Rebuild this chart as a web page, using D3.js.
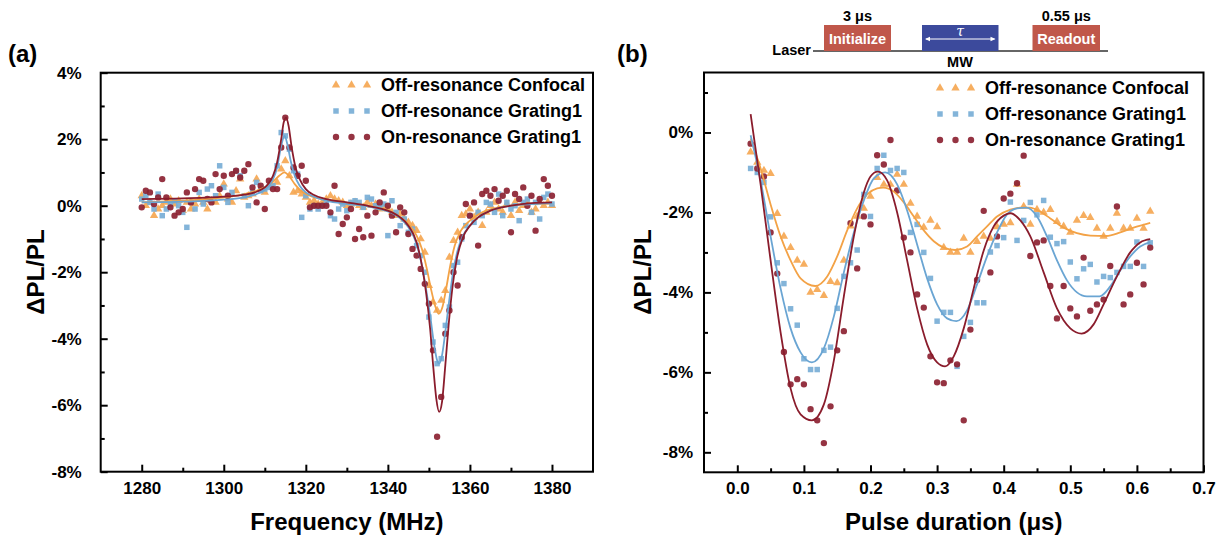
<!DOCTYPE html>
<html>
<head>
<meta charset="utf-8">
<script src="https://d3js.org/d3.v7.min.js"></script>
<style>
body { margin: 0; background: #fff; }
text { font-family: Arial, 'Liberation Sans', sans-serif; font-weight: bold; fill: #000; }
</style>
</head>
<body>
<div id="chart"></div>
<script>
// ---------- panel (a): frequency sweep ----------
const freqA = d3.range(1280, 1381, 1);

const orangeA = [0.3,0.0,0.1,-0.3,-0.1,0.0,0.1,0.2,0.05,0.15,
  -0.15,0.1,-0.1,0.05,0.2,0.1,-0.1,0.15,0.1,0.3,
  0.65,0.2,0.1,0.45,0.8,0.25,0.3,0.35,0.8,0.5,
  0.4,0.6,0.55,0.7,1.1,1.35,0.9,0.4,0.45,0.35,
  0.25,0.1,0.15,0.05,0.1,0.2,0.3,0.2,0.15,0.1,
  0.0,0.05,0.1,0.0,-0.05,0.1,0.0,0.05,-0.1,-0.05,
  -0.1,-0.2,-0.3,-0.25,-0.4,-0.5,-0.6,-0.75,-1.0,-1.4,
  -2.4,-2.9,-3.15,-2.85,-2.55,-1.55,-1.05,-0.8,-0.3,-0.25,
  -0.1,-0.35,-0.2,-0.6,-0.2,0.0,0.1,-0.1,-0.2,0.05,
  -0.3,0.1,-0.15,0.0,0.1,-0.2,-0.1,0.1,0.0,0.1,0.0];

const blueA = [0.2,0.3,0.1,-0.1,0.35,-0.3,-0.1,0.05,0.15,0.0,
  -0.2,-0.65,0.1,-0.1,0.4,0.05,0.5,0.6,0.3,1.2,
  0.55,0.1,0.4,1.05,0.9,0.3,0.0,0.4,0.7,0.45,
  0.5,0.55,0.6,1.2,2.2,2.1,1.7,1.05,0.95,-0.35,
  0.3,-0.1,0.0,-0.1,0.0,0.05,-0.3,-0.4,-0.1,0.05,
  -0.15,0.1,0.15,0.1,-0.05,0.25,0.2,0.0,-0.05,0.05,
  -0.9,0.15,-0.2,-0.6,-0.4,-0.8,-0.7,-1.2,-1.5,-2.0,
  -3.35,-4.1,-4.75,-4.6,-3.6,-3.05,-1.8,-1.7,-1.0,-0.6,
  -0.3,-0.5,-0.2,-0.3,0.1,0.05,-0.2,0.35,-0.3,0.1,
  -0.1,0.0,-0.45,0.1,0.2,-0.2,0.1,-0.4,0.25,0.35,0.05];

const redA = [-0.05,0.45,0.4,0.05,0.25,0.8,0.25,-0.05,-0.3,-0.2,
  -0.1,0.4,0.1,0.5,0.8,0.75,0.2,0.1,0.95,0.5,
  0.9,0.3,0.95,1.05,0.85,1.05,1.25,0.55,0.1,0.6,
  -0.1,0.75,0.5,0.5,1.75,2.65,1.75,1.15,0.9,1.2,
  0.75,-0.05,0.0,0.0,0.0,0.0,-0.2,0.6,-0.85,-0.55,
  -0.35,-0.1,-1.0,-0.7,-0.95,-0.3,-0.9,-0.2,0.1,0.4,
  0.0,-0.3,-0.8,-0.05,-0.2,-0.85,-1.3,-1.5,-1.9,-2.35,
  -2.95,-4.35,-6.95,-5.75,-3.85,-3.15,-2.0,-2.4,-0.95,0.05,
  -0.3,0.1,-1.2,0.35,0.45,0.3,0.5,0.15,0.3,0.45,
  -0.8,0.35,0.2,0.55,0.0,0.3,-0.75,0.2,0.8,0.6,0.3];

// fitted curves as [MHz, %]
const orangeFitA = [[1280,0.1],[1290,0.15],[1300,0.25],[1305,0.35],[1308,0.45],[1310,0.55],[1312,0.72],[1313.5,0.9],[1314.8,1.0],[1316,0.88],[1317.3,0.65],[1318.8,0.45],[1321,0.3],[1325,0.18],[1330,0.08],[1335,0.0],[1338,-0.08],[1341,-0.2],[1343,-0.35],[1345,-0.55],[1347,-0.9],[1348.3,-1.3],[1349.5,-1.9],[1350.5,-2.5],[1351.5,-3.0],[1352.4,-3.25],[1353.3,-3.05],[1354.2,-2.5],[1355.2,-1.8],[1356.3,-1.2],[1357.8,-0.75],[1360,-0.45],[1363,-0.2],[1367,-0.05],[1372,0.03],[1380,0.08]];
const blueFitA = [[1280,0.1],[1290,0.12],[1300,0.18],[1305,0.25],[1308,0.35],[1310,0.48],[1311,0.6],[1312,0.8],[1313,1.15],[1314,1.8],[1314.8,2.1],[1315.5,1.85],[1316.3,1.35],[1317.3,0.9],[1318.5,0.6],[1320,0.4],[1322,0.27],[1325,0.15],[1330,0.05],[1335,-0.02],[1338,-0.1],[1341,-0.22],[1343,-0.38],[1345,-0.65],[1347,-1.15],[1348.3,-1.8],[1349.3,-2.5],[1350.3,-3.3],[1351.3,-4.2],[1352,-4.65],[1352.5,-4.75],[1353.2,-4.5],[1354,-3.8],[1354.9,-2.9],[1355.9,-2.0],[1357,-1.35],[1358.3,-0.9],[1360,-0.6],[1362,-0.35],[1365,-0.15],[1370,0.0],[1375,0.05],[1380,0.08]];
const redFitA = [[1280,0.2],[1290,0.22],[1300,0.27],[1305,0.33],[1308,0.42],[1310,0.55],[1311,0.68],[1312,0.9],[1313,1.3],[1314,2.0],[1314.6,2.5],[1315.2,2.65],[1315.8,2.4],[1316.5,1.8],[1317.5,1.15],[1318.5,0.8],[1320,0.5],[1322,0.32],[1325,0.2],[1330,0.1],[1335,0.0],[1338,-0.08],[1341,-0.2],[1343,-0.35],[1345,-0.6],[1347,-1.1],[1348.3,-1.8],[1349.3,-2.6],[1350.3,-3.7],[1351.1,-4.9],[1351.8,-5.8],[1352.5,-6.2],[1353.2,-5.9],[1354,-4.8],[1354.8,-3.6],[1355.8,-2.4],[1356.8,-1.6],[1358.3,-0.95],[1360,-0.6],[1362,-0.35],[1365,-0.15],[1370,0.0],[1375,0.08],[1380,0.1]];

// ---------- panel (b): Rabi oscillation ----------
const pulseB = d3.range(0, 61).map(i => +(0.02 + 0.01 * i).toFixed(2));

const orangeB = [-0.49,-0.75,-0.95,-1.03,-2.03,-2.6,-2.88,-3.2,-3.3,-4.0,
  -3.93,-4.08,-3.73,-3.76,-3.2,-2.34,-2.1,-1.9,-1.6,-1.13,
  -1.3,-1.3,-1.05,-1.3,-1.77,-2.1,-2.37,-2.2,-2.36,-2.88,
  -3.0,-3.0,-2.65,-3.0,-2.73,-2.6,-2.65,-2.36,-2.3,-2.26,
  -1.3,-1.85,-2.3,-1.93,-2.0,-1.93,-2.23,-2.35,-2.5,-2.2,
  -2.08,-2.13,-2.4,-2.6,-2.4,-2.02,-2.4,-2.4,-2.15,-2.4,-1.97];

const blueB = [-0.9,-1.0,-1.25,-2.11,-3.26,-3.78,-4.41,-4.82,-5.66,-5.93,
  -5.93,-5.45,-5.37,-4.4,-3.6,-3.26,-2.94,-1.55,-2.1,-0.9,
  -0.57,-0.95,-0.9,-1.0,-2.5,-2.3,-3.0,-3.65,-4.72,-4.5,
  -4.5,-5.85,-5.1,-4.75,-4.26,-4.26,-2.99,-2.83,-2.63,-1.74,
  -2.7,-2.2,-1.75,-2.06,-1.7,-2.62,-2.78,-2.73,-3.24,-3.66,
  -3.41,-3.3,-3.74,-3.6,-3.63,-3.5,-3.35,-3.35,-2.74,-3.35,-2.76];

const redB = [-0.28,-0.9,-1.1,-2.5,-3.53,-5.49,-6.3,-6.17,-6.3,-6.92,
  -7.2,-7.77,-6.85,-5.45,-4.97,-2.27,-3.4,-2.1,-2.3,-0.57,
  -0.8,-0.19,-1.45,-2.63,-3.0,-4.05,-4.38,-5.6,-6.25,-6.27,
  -5.7,-5.8,-7.2,-4.93,-3.69,-1.96,-3.5,-2.6,-1.65,-1.53,
  -1.27,-0.58,-3.09,-2.75,-2.7,-3.84,-4.65,-3.84,-4.4,-4.6,
  -3.13,-4.46,-4.3,-4.18,-3.34,-1.85,-4.3,-4.05,-3.26,-3.8,-2.88];

const orangeFitB = [[0.02,-0.15],[0.035,-0.9],[0.05,-1.8],[0.065,-2.6],[0.08,-3.2],[0.095,-3.65],[0.117,-3.84],[0.135,-3.6],[0.15,-3.1],[0.165,-2.45],[0.18,-1.9],[0.195,-1.55],[0.21,-1.4],[0.219,-1.38],[0.235,-1.48],[0.25,-1.75],[0.265,-2.1],[0.28,-2.45],[0.295,-2.72],[0.31,-2.88],[0.327,-2.94],[0.345,-2.85],[0.36,-2.6],[0.375,-2.35],[0.39,-2.1],[0.41,-1.93],[0.425,-1.88],[0.439,-1.88],[0.455,-1.98],[0.47,-2.15],[0.49,-2.38],[0.51,-2.52],[0.53,-2.58],[0.554,-2.59],[0.575,-2.5],[0.595,-2.38],[0.62,-2.26]];
const blueFitB = [[0.02,-0.07],[0.035,-1.2],[0.05,-2.6],[0.065,-3.9],[0.08,-4.9],[0.095,-5.5],[0.112,-5.75],[0.13,-5.4],[0.145,-4.6],[0.16,-3.5],[0.175,-2.5],[0.19,-1.7],[0.205,-1.15],[0.222,-1.0],[0.24,-1.3],[0.255,-1.95],[0.27,-2.8],[0.285,-3.65],[0.3,-4.3],[0.315,-4.65],[0.329,-4.72],[0.345,-4.45],[0.36,-3.8],[0.375,-3.1],[0.39,-2.5],[0.405,-2.05],[0.42,-1.9],[0.434,-1.88],[0.45,-2.1],[0.465,-2.6],[0.48,-3.2],[0.495,-3.7],[0.51,-4.0],[0.525,-4.1],[0.544,-4.1],[0.56,-3.85],[0.575,-3.45],[0.59,-3.1],[0.605,-2.85],[0.62,-2.74]];
const redFitB = [[0.02,0.46],[0.035,-1.3],[0.05,-3.2],[0.065,-5.0],[0.08,-6.4],[0.095,-7.05],[0.112,-7.2],[0.13,-6.8],[0.145,-5.7],[0.16,-4.1],[0.175,-2.6],[0.19,-1.5],[0.2,-1.1],[0.211,-0.98],[0.225,-1.2],[0.24,-2.0],[0.255,-3.2],[0.27,-4.4],[0.285,-5.3],[0.3,-5.75],[0.312,-5.85],[0.325,-5.6],[0.34,-4.9],[0.355,-3.9],[0.37,-2.95],[0.385,-2.35],[0.4,-2.08],[0.41,-2.02],[0.425,-2.2],[0.44,-2.6],[0.46,-3.5],[0.48,-4.4],[0.5,-4.9],[0.517,-5.03],[0.535,-4.8],[0.55,-4.3],[0.57,-3.6],[0.59,-3.0],[0.605,-2.75],[0.62,-2.67]];

const legendNames = ['Off-resonance Confocal', 'Off-resonance Grating1', 'On-resonance Grating1'];

// ---------- drawing ----------
const svg = d3.select('#chart').append('svg')
  .attr('width', 1220).attr('height', 535)
  .style('background', '#fff');

const ORANGE = '#f5a752', BLUE = '#78aed6', RED = '#8c2232';
const styles = [
  { color: ORANGE, line: '#f3a246', symbol: d3.symbolTriangle, size: 30 },
  { color: BLUE,   line: '#6aa5d3', symbol: d3.symbolSquare,   size: 30 },
  { color: RED,    line: '#8a1c2c', symbol: d3.symbolCircle,   size: 32 }
];

function drawPanel(p) {
  const g = svg.append('g');
  const x = d3.scaleLinear().domain(p.xDomain).range(p.xRange);
  const y = d3.scaleLinear().domain(p.yDomain).range(p.yRange);

  // points
  p.series.forEach((vals, k) => {
    const st = styles[k];
    g.append('g').selectAll('path')
      .data(p.xs.map((xv, i) => [xv, vals[i]]))
      .join('path')
      .attr('transform', d => `translate(${x(d[0])},${y(d[1])})`)
      .attr('d', d3.symbol().type(st.symbol).size(st.size))
      .attr('fill', st.color)
      .attr('fill-opacity', 0.92);
  });

  // fitted lines
  const line = d3.line().x(d => x(d[0])).y(d => y(d[1])).curve(d3.curveMonotoneX);
  p.fits.forEach((f, k) => {
    g.append('path').datum(f)
      .attr('d', line)
      .attr('fill', 'none')
      .attr('stroke', styles[k].line)
      .attr('stroke-width', 1.8);
  });

  // axes, ticks pointing inward
  const xb = p.yRange[0], yl = p.xRange[0];
  const styleAxis = sel => {
    sel.select('.domain').remove();
    sel.selectAll('.tick line').attr('stroke', '#000').attr('stroke-width', 2);
    sel.selectAll('.tick text').style('font-size', '17px').attr('fill', '#000');
  };
  g.append('g').attr('transform', `translate(0,${xb})`)
    .call(d3.axisBottom(x).tickValues(p.xTicks).tickFormat(p.xFormat)
      .tickSizeInner(-7).tickSizeOuter(0).tickPadding(10))
    .call(styleAxis);
  g.append('g').attr('transform', `translate(0,${xb})`)
    .call(d3.axisBottom(x).tickValues(p.xMinor).tickFormat('')
      .tickSizeInner(-4).tickSizeOuter(0))
    .call(styleAxis);
  g.append('g').attr('transform', `translate(${yl},0)`)
    .call(d3.axisLeft(y).tickValues(p.yTicks).tickFormat(d => d + '%')
      .tickSizeInner(-7).tickSizeOuter(0).tickPadding(p.yPad))
    .call(styleAxis);
  g.append('g').attr('transform', `translate(${yl},0)`)
    .call(d3.axisLeft(y).tickValues(p.yMinor).tickFormat('')
      .tickSizeInner(-4).tickSizeOuter(0))
    .call(styleAxis);

  // frame
  g.append('rect')
    .attr('x', p.xRange[0]).attr('y', p.yRange[1])
    .attr('width', p.xRange[1] - p.xRange[0])
    .attr('height', p.yRange[0] - p.yRange[1])
    .attr('fill', 'none').attr('stroke', '#000').attr('stroke-width', 2);

  // titles
  g.append('text')
    .attr('x', (p.xRange[0] + p.xRange[1]) / 2).attr('y', 530)
    .attr('text-anchor', 'middle').style('font-size', '24px')
    .text(p.xTitle);
  g.append('text')
    .attr('transform', `translate(${p.yTitleX},${272}) rotate(-90)`)
    .attr('text-anchor', 'middle').attr('dy', '0.35em').style('font-size', '24px')
    .text('ΔPL/PL');
  g.append('text')
    .attr('x', p.tagX).attr('y', 62).style('font-size', '24px')
    .text(p.tag);

  // legend
  legendNames.forEach((name, k) => {
    const ly = p.legY + k * 26;
    [-45, -29.5, -14].forEach(dx => {
      g.append('path')
        .attr('transform', `translate(${p.legX + dx},${ly})`)
        .attr('d', d3.symbol().type(styles[k].symbol).size(styles[k].size))
        .attr('fill', styles[k].color).attr('fill-opacity', 0.92);
    });
    g.append('text').attr('x', p.legX).attr('y', ly).attr('dy', '0.36em')
      .style('font-size', '18px').text(name);
  });
}

drawPanel({
  xs: freqA, series: [orangeA, blueA, redA], fits: [orangeFitA, blueFitA, redFitA],
  xDomain: [1270, 1390], xRange: [100.7, 593],
  yDomain: [-8, 4], yRange: [471.7, 72.7],
  xTicks: [1280, 1300, 1320, 1340, 1360, 1380], xMinor: [1290, 1310, 1330, 1350, 1370],
  xFormat: d3.format('d'),
  yTicks: [4, 2, 0, -2, -4, -6, -8], yMinor: [3, 1, -1, -3, -5, -7], yPad: 19,
  xTitle: 'Frequency (MHz)', yTitleX: 36, tag: '(a)', tagX: 8,
  legX: 381, legY: 85
});

drawPanel({
  xs: pulseB, series: [orangeB, blueB, redB], fits: [orangeFitB, blueFitB, redFitB],
  xDomain: [-0.05, 0.7], xRange: [704, 1203.5],
  yDomain: [-8.5, 1.5], yRange: [472.3, 72.5],
  xTicks: [0, 0.1, 0.2, 0.3, 0.4, 0.5, 0.6, 0.7], xMinor: [0.05, 0.15, 0.25, 0.35, 0.45, 0.55, 0.65],
  xFormat: d3.format('.1f'),
  yTicks: [0, -2, -4, -6, -8], yMinor: [1, -1, -3, -5, -7], yPad: 11,
  xTitle: 'Pulse duration (μs)', yTitleX: 643, tag: '(b)', tagX: 617,
  legX: 985, legY: 88
});

// ---------- pulse sequence sketch ----------
const seq = svg.append('g');
seq.append('line').attr('x1', 813).attr('x2', 1108).attr('y1', 51).attr('y2', 51)
  .attr('stroke', '#333').attr('stroke-width', 1.5);
seq.append('text').attr('x', 811).attr('y', 55).attr('text-anchor', 'end')
  .style('font-size', '14.5px').text('Laser');
const boxes = [
  { x0: 824, x1: 891, fill: '#c0574a', label: 'Initialize', top: '3 μs' },
  { x0: 922, x1: 998.5, fill: '#3c4a9c', label: '', top: '' },
  { x0: 1032.5, x1: 1100, fill: '#c0574a', label: 'Readout', top: '0.55 μs' }
];
boxes.forEach(b => {
  const cx = (b.x0 + b.x1) / 2;
  seq.append('rect').attr('x', b.x0).attr('y', 25).attr('width', b.x1 - b.x0).attr('height', 26)
    .attr('fill', b.fill);
  if (b.label) seq.append('text').attr('x', cx).attr('y', 44).attr('text-anchor', 'middle')
    .style('font-size', '14.5px').style('fill', '#fff').text(b.label);
  if (b.top) seq.append('text').attr('x', cx).attr('y', 21).attr('text-anchor', 'middle')
    .style('font-size', '14.5px').text(b.top);
});
seq.append('line').attr('x1', 926).attr('x2', 994.5).attr('y1', 39).attr('y2', 39)
  .attr('stroke', '#fff').attr('stroke-width', 1);
seq.append('path').attr('d', 'M925,39 L930,36.8 L930,41.2 Z').attr('fill', '#fff');
seq.append('path').attr('d', 'M995.5,39 L990.5,36.8 L990.5,41.2 Z').attr('fill', '#fff');
seq.append('text').attr('x', 960).attr('y', 36).attr('text-anchor', 'middle')
  .style('font-size', '14px').style('font-weight', 'normal').style('font-style', 'italic')
  .style('font-family', "'DejaVu Serif', serif").style('fill', '#fff').text('τ');
seq.append('text').attr('x', 960).attr('y', 67).attr('text-anchor', 'middle')
  .style('font-size', '14.5px').text('MW');
</script>
</body>
</html>
